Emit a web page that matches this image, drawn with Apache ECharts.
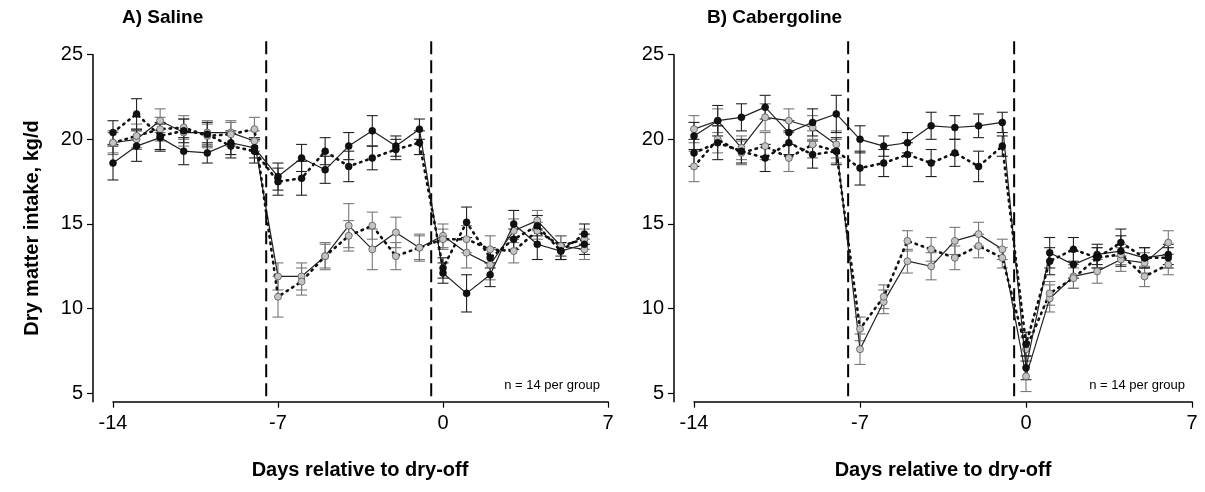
<!DOCTYPE html>
<html><head><meta charset="utf-8">
<script src="https://cdn.jsdelivr.net/npm/echarts@6/dist/echarts.min.js"></script>
<style>html,body{margin:0;padding:0;background:#fff}#c{width:1205px;height:492px}</style>
</head><body><div id="c"></div>
<script>
// days relative to dry-off
const days = [-14,-13,-12,-11,-10,-9,-8,-7,-6,-5,-4,-3,-2,-1,0,1,2,3,4,5,6];
const xTicks = [-14,-7,0,7];
const yTicks = [5,10,15,20,25];
const dryOffLines = [-7.5,-0.5];

// Panel A: Saline
const blackSolidA  = [18.6,19.6,20.1,19.3,19.2,19.8,19.5,17.8,18.9,18.2,19.6,20.5,19.6,20.6,12.1,10.9,12.0,15.0,13.8,13.4,13.8];
const blackDottedA = [20.4,21.5,20.2,20.5,20.3,19.6,19.3,17.5,17.7,19.3,18.4,18.9,19.4,19.8,12.4,15.1,13.0,14.1,14.9,13.4,14.4];
const greySolidA   = [19.8,20.0,21.1,20.4,20.4,20.4,19.9,11.9,11.9,13.1,14.9,13.5,14.5,13.6,14.3,13.3,12.6,14.6,15.2,13.7,13.5];
const greyDottedA  = [19.8,20.2,20.6,20.7,20.2,20.3,20.6,10.7,11.6,13.1,14.3,14.9,13.1,13.6,14.1,14.1,13.5,13.4,14.6,13.7,14.1];
const seBlackSolidA  = [1.0,0.9,0.8,0.8,0.6,0.7,0.6,0.8,0.8,0.8,0.8,0.9,0.6,0.6,0.6,1.1,0.7,0.8,0.9,0.5,0.6];
const seBlackDottedA = [0.7,0.9,0.8,0.7,0.7,0.7,0.7,0.8,1.0,0.8,0.9,0.7,0.6,0.7,0.6,0.9,0.6,0.6,0.6,0.5,0.6];
const seGreySolidA   = [0.6,0.6,0.7,0.8,0.7,0.7,0.6,0.8,0.8,0.8,1.3,1.2,0.9,0.8,0.7,0.9,0.9,0.7,0.6,0.6,0.6];
const seGreyDottedA  = [0.7,0.7,0.7,0.7,0.7,0.7,0.7,1.2,0.8,0.7,0.9,0.8,0.8,0.7,0.6,0.8,0.8,0.7,0.5,0.6,0.6];

// Panel B: Cabergoline
const blackSolidB  = [20.2,21.1,21.3,21.9,20.4,21.0,21.5,20.0,19.6,19.8,20.8,20.7,20.8,21.0,6.5,13.3,12.6,13.2,13.4,13.0,13.2];
const blackDottedB = [19.2,19.8,19.3,18.9,19.8,19.1,19.3,18.3,18.6,19.1,18.6,19.2,18.4,19.6,7.9,12.8,13.5,13.0,13.9,13.0,13.0];
const greySolidB   = [20.6,21.1,19.5,21.3,21.1,20.7,19.7,7.6,10.4,12.8,12.5,14.0,14.4,13.5,6.0,10.6,11.9,12.2,12.9,12.7,13.9];
const greyDottedB  = [18.4,20.0,19.2,19.6,18.9,19.7,19.3,8.8,10.7,14.0,13.5,13.0,13.7,13.0,7.6,10.9,11.8,13.0,13.2,11.9,12.6];
const seBlackSolidB  = [0.8,0.9,0.8,0.7,0.7,0.8,1.1,0.8,0.6,0.6,0.8,0.7,0.7,0.6,0.7,0.9,0.8,0.6,0.9,0.6,0.6];
const seBlackDottedB = [0.8,1.0,0.7,0.8,0.7,0.8,0.8,1.0,0.8,0.7,0.8,0.8,0.9,0.6,0.7,0.8,0.7,0.6,0.8,0.6,0.6];
const seGreySolidB   = [0.8,0.7,0.7,0.8,0.7,0.7,0.8,0.9,0.7,0.7,0.8,0.8,0.7,0.6,0.9,0.8,0.7,0.7,0.7,0.6,0.7];
const seGreyDottedB  = [0.9,0.8,0.7,0.8,0.8,0.8,0.7,0.7,0.7,0.6,0.7,0.7,0.7,0.6,0.7,0.7,0.6,0.6,0.6,0.6,0.6];

const titles = ['A) Saline','B) Cabergoline'];
const yName = 'Dry matter intake, kg/d';
const xName = 'Days relative to dry-off';
const note = 'n = 14 per group';

const FONT = 'Liberation Sans, Arial, sans-serif';
const chart = echarts.init(document.getElementById('c'), null, {renderer:'canvas'});

const grids = [
  {left:113, top:54.7, width:495, height:347},
  {left:694, top:54.7, width:498, height:347}
];

function xAx(i){
  return {type:'value', gridIndex:i, min:-14, max:7,
    axisLine:{show:true, onZero:false, lineStyle:{color:'#000', width:1.5}},
    axisTick:{show:true, customValues:xTicks, length:6, lineStyle:{color:'#000', width:1.2}},
    axisLabel:{customValues:xTicks, color:'#000', fontSize:20, fontFamily:FONT, margin:12},
    splitLine:{show:false}};
}
function yAx(i){
  return {type:'value', gridIndex:i, min:4.5, max:25, offset:20,
    axisLine:{show:true, onZero:false, lineStyle:{color:'#000', width:1.5}},
    axisTick:{show:true, customValues:yTicks, length:6, lineStyle:{color:'#000', width:1.2}},
    axisLabel:{customValues:yTicks, color:'#000', fontSize:20, fontFamily:FONT, margin:10},
    splitLine:{show:false}};
}

function errSeries(gi, vals, se, color){
  return {type:'custom', xAxisIndex:gi, yAxisIndex:gi, z:2, silent:true,
    data: days.map((d,k)=>[d, vals[k], se[k]]),
    renderItem:function(params, api){
      const x = api.value(0), y = api.value(1), e = api.value(2);
      const top = api.coord([x, y+e]), bot = api.coord([x, y-e]);
      const hw = 5.5;
      const st = {stroke:color, lineWidth:1.1};
      return {type:'group', children:[
        {type:'line', shape:{x1:top[0], y1:top[1], x2:bot[0], y2:bot[1]}, style:st},
        {type:'line', shape:{x1:top[0]-hw, y1:top[1], x2:top[0]+hw, y2:top[1]}, style:st},
        {type:'line', shape:{x1:bot[0]-hw, y1:bot[1], x2:bot[0]+hw, y2:bot[1]}, style:st}
      ]};
    }};
}
function lineSeries(gi, vals, dotted, grey){
  return {type:'line', xAxisIndex:gi, yAxisIndex:gi, z: grey?4:5,
    data: days.map((d,k)=>[d, vals[k]]),
    symbol:'circle', symbolSize:7, showSymbol:true,
    itemStyle: grey ? {color:'#c4c4c4', borderColor:'#555', borderWidth:0.8} : {color:'#111', borderColor:'#000', borderWidth:0.5},
    lineStyle: dotted ? {color:'#111', width:2.6, type:[1.5,5], cap:'round'} : {color:'#222', width:1.2, type:'solid'},
    animation:false};
}
function dashSeries(gi){
  return {type:'custom', xAxisIndex:gi, yAxisIndex:gi, z:1, silent:true, clip:false,
    data: dryOffLines.map(v=>[v]),
    renderItem:function(params, api){
      const x = api.value(0);
      const p1 = api.coord([x, 25.8]), p2 = api.coord([x, 4.5]);
      return {type:'line', shape:{x1:p1[0], y1:p1[1], x2:p2[0], y2:p2[1]},
        style:{stroke:'#000', lineWidth:2, lineDash:[13,6]}};
    }};
}

const series = [];
const panels = [
  [blackSolidA, blackDottedA, greySolidA, greyDottedA, seBlackSolidA, seBlackDottedA, seGreySolidA, seGreyDottedA],
  [blackSolidB, blackDottedB, greySolidB, greyDottedB, seBlackSolidB, seBlackDottedB, seGreySolidB, seGreyDottedB]
];
panels.forEach((p, gi)=>{
  series.push(dashSeries(gi));
  series.push(errSeries(gi, p[2], p[6], '#777'));
  series.push(errSeries(gi, p[3], p[7], '#777'));
  series.push(errSeries(gi, p[0], p[4], '#222'));
  series.push(errSeries(gi, p[1], p[5], '#222'));
  series.push(lineSeries(gi, p[2], false, true));
  series.push(lineSeries(gi, p[3], true, true));
  series.push(lineSeries(gi, p[0], false, false));
  series.push(lineSeries(gi, p[1], true, false));
});

chart.setOption({
  animation:false,
  backgroundColor:'#fff',
  grid: grids,
  xAxis:[xAx(0), xAx(1)],
  yAxis:[yAx(0), yAx(1)],
  series: series,
  graphic:[
    {type:'text', left:122, top:8, style:{text:titles[0], font:'bold 19px '+FONT, fill:'#000'}},
    {type:'text', left:707, top:8, style:{text:titles[1], font:'bold 19px '+FONT, fill:'#000'}},
    {type:'text', x:32, y:228, rotation:Math.PI/2, style:{text:yName, font:'bold 20px '+FONT, fill:'#000', align:'center', verticalAlign:'middle'}},
    {type:'text', x:360, y:470, style:{text:xName, font:'bold 20px '+FONT, fill:'#000', align:'center', verticalAlign:'middle'}},
    {type:'text', x:943, y:470, style:{text:xName, font:'bold 20px '+FONT, fill:'#000', align:'center', verticalAlign:'middle'}},
    {type:'text', x:600, y:385, style:{text:note, font:'13px '+FONT, fill:'#000', align:'right', verticalAlign:'middle'}},
    {type:'text', x:1185, y:385, style:{text:note, font:'13px '+FONT, fill:'#000', align:'right', verticalAlign:'middle'}}
  ]
});
</script></body></html>
